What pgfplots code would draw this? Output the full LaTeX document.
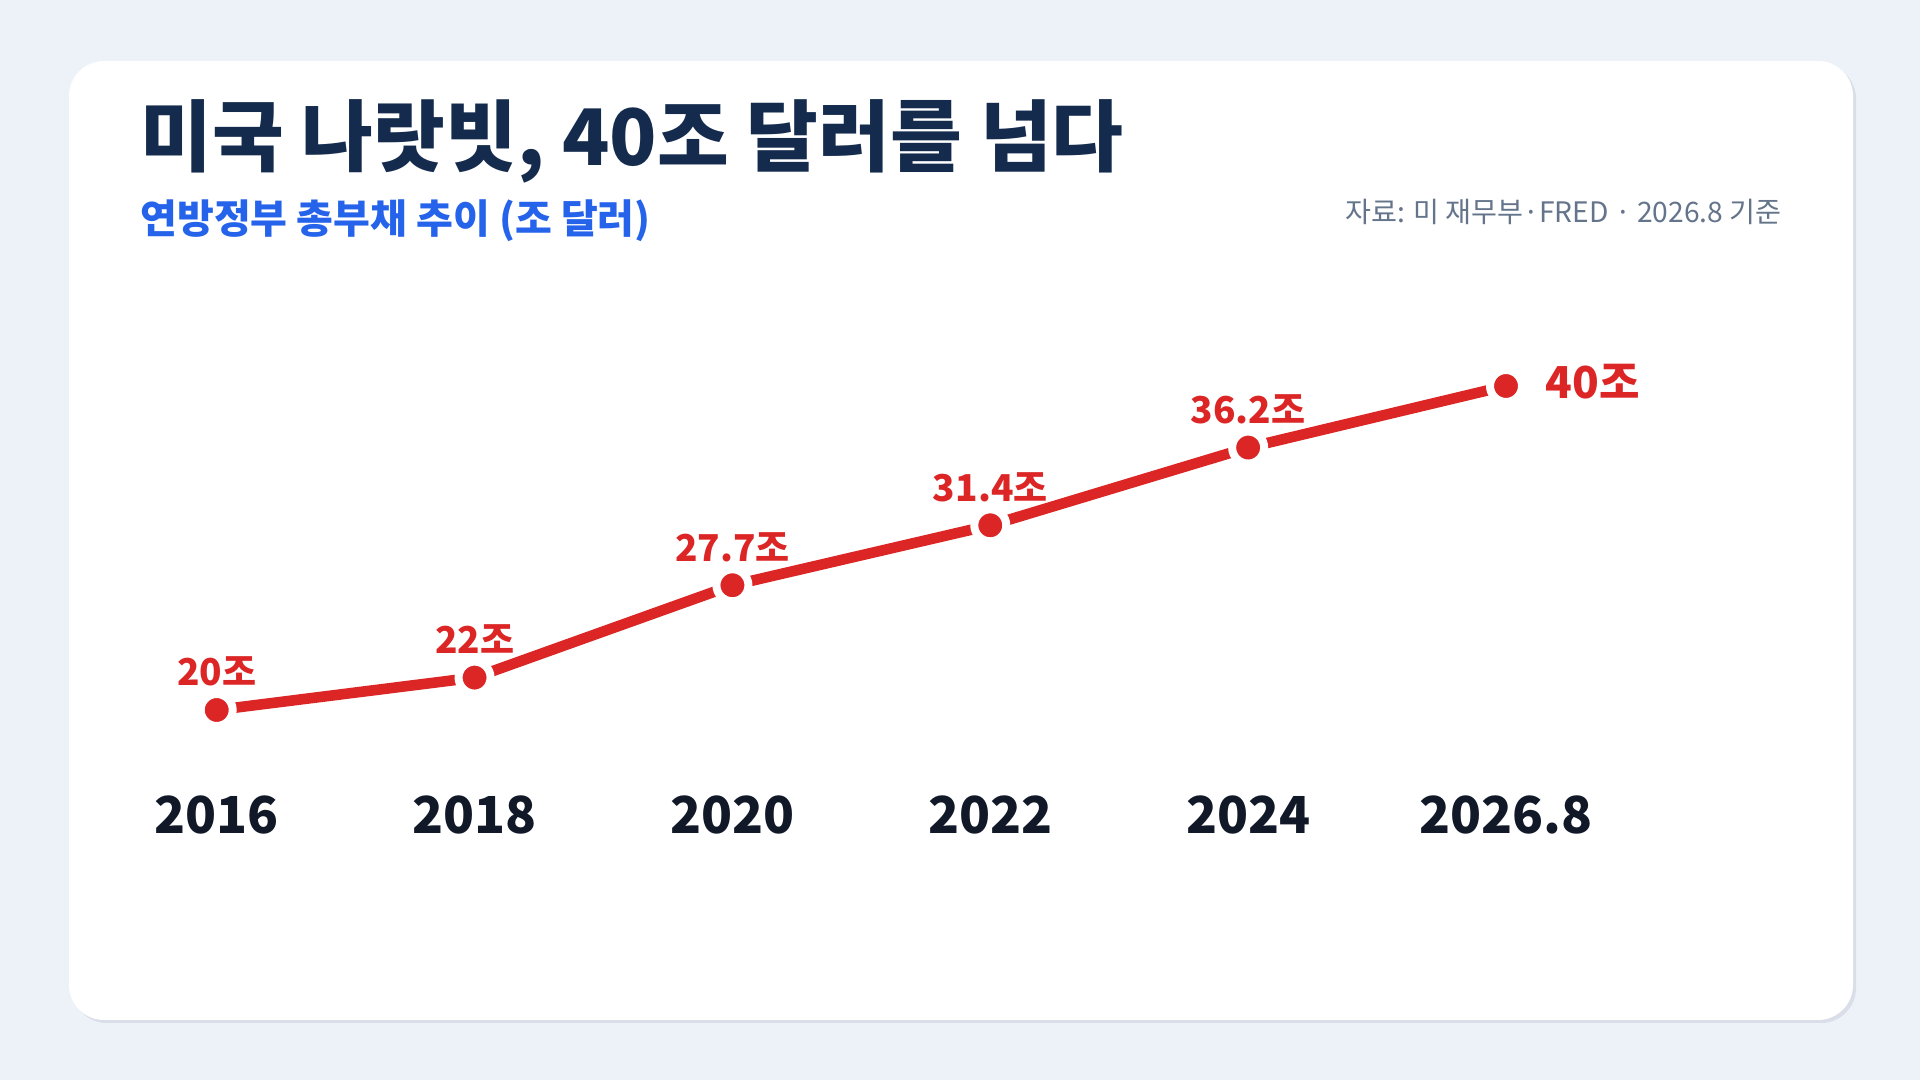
\documentclass[border=0pt]{standalone}
\usepackage{fontspec}
\setmainfont{Noto Sans CJK KR}
\usepackage{pgfplots}
\pgfplotsset{compat=1.18}
\definecolor{bgc}{HTML}{EDF1F8}
\definecolor{shadowc}{HTML}{D9DEE8}
\definecolor{titlec}{HTML}{142B4D}
\definecolor{subc}{HTML}{2563EB}
\definecolor{srcc}{HTML}{64748B}
\definecolor{linered}{HTML}{DC2626}
\definecolor{tickc}{HTML}{111827}
\begin{document}
\begin{tikzpicture}
\fill[bgc] (0,0) rectangle (960pt,540pt);
\fill[shadowc, rounded corners=17.5pt] (36pt,28.5pt) rectangle (928pt,508pt);
\fill[white, rounded corners=17.5pt] (34.5pt,30pt) rectangle (926.5pt,509.5pt);
\node[anchor=base west, inner sep=0pt, text=titlec, font=\fontsize{39}{42}\selectfont\bfseries] at (70pt,457pt) {미국 나랏빗, 40조 달러를 넘다};
\node[anchor=base west, inner sep=0pt, text=subc, font=\fontsize{20}{23}\selectfont\bfseries] at (70pt,423pt) {연방정부 총부채 추이 (조 달러)};
\node[anchor=base east, inner sep=0pt, text=srcc, font=\fontsize{14.1}{17}\selectfont] at (891pt,428.5pt) {자료: 미 재무부·FRED · 2026.8 기준};
\begin{axis}[
  at={(108.35pt,185pt)}, anchor=south west,
  scale only axis, width=644.65pt, height=162pt,
  xmin=0, xmax=5, ymin=20, ymax=40,
  enlargelimits=false, clip=false,
  axis line style={draw=none},
  major tick length=0pt,
  ytick=\empty,
  xtick={0,1,2,3,4,5},
  xticklabels={2016,2018,2020,2022,2024,2026.8},
  xticklabel style={anchor=base, yshift=-62pt, inner sep=0pt, text=tickc, font=\fontsize{25.5}{28}\selectfont\bfseries},
]
\addplot[color=linered, line width=5.3pt, mark=*, mark size=8pt,
  mark options={fill=linered, draw=white, line width=4pt}]
  coordinates {(0,20) (1,22) (2,27.7) (3,31.4) (4,36.2) (5,40)};
\begin{scope}[every node/.style={anchor=base, inner sep=0pt, text=linered, font=\fontsize{18.5}{21}\selectfont\bfseries, yshift=12pt}]
\node at (axis cs:0,20) {20조};
\node at (axis cs:1,22) {22조};
\node at (axis cs:2,27.7) {27.7조};
\node at (axis cs:3,31.4) {31.4조};
\node at (axis cs:4,36.2) {36.2조};
\end{scope}
\node[anchor=base west, inner sep=0pt, text=linered, font=\fontsize{22}{25}\selectfont\bfseries, xshift=19.5pt, yshift=-6.5pt] at (axis cs:5,40) {40조};
\end{axis}
\end{tikzpicture}
\end{document}
